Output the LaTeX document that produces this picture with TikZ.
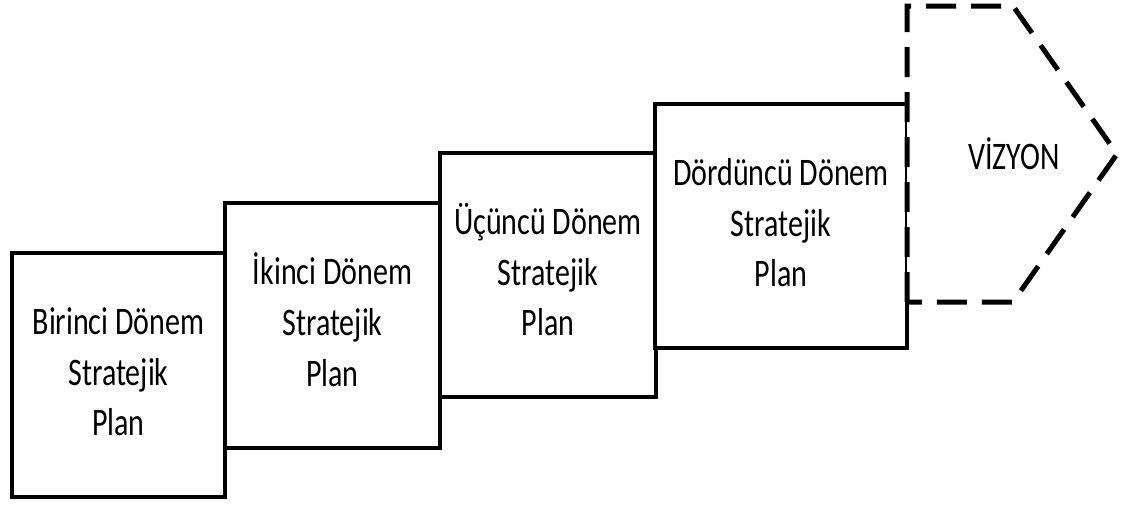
\documentclass[tikz,border=0pt]{standalone}
\usepackage{fontspec}
\setmainfont{Carlito}
\newcommand{\tallstack}[1]{\scalebox{1}[1.3]{\fontsize{30}{39}\selectfont\begin{tabular}{@{}c@{}}#1\end{tabular}}}
\begin{document}
\begin{tikzpicture}[x=1pt,y=-1pt,
  stepbox/.style={draw=black, line width=4.8pt, fill=white, inner sep=0pt, outer sep=0pt,
    align=center, line join=miter},
  visionshape/.style={draw=black, line width=5pt, fill=white, dash pattern=on 30pt off 15pt, line join=miter},
  vtext/.style={inner sep=0pt}
]
\useasboundingbox (0,0) rectangle (1123,504);
\node[stepbox, minimum width=213pt, minimum height=244pt] (b1) at (118.5,375) {\tallstack{Birinci Dönem\\Stratejik\\Plan}};
\node[stepbox, minimum width=215pt, minimum height=245pt] (b2) at (332.5,325.5) {\tallstack{İkinci Dönem\\Stratejik\\Plan}};
\node[stepbox, minimum width=216pt, minimum height=244pt] (b3) at (548,275) {\tallstack{Üçüncü Dönem\\Stratejik\\Plan}};
\node[stepbox, minimum width=252pt, minimum height=244pt] (b4) at (781,226) {\tallstack{Dördüncü Dönem\\Stratejik\\Plan}};
\coordinate (v1) at (907,6);
\coordinate (v2) at (1013,6);
\coordinate (v3) at (1117,154);
\coordinate (v4) at (1013,302);
\coordinate (v5) at (907,302);
\draw[visionshape] (v5) -- (v1) -- (v2) -- (v3) -- (v4) -- cycle;
\node[vtext] (viz) at (1014,154) {\scalebox{1}[1.3]{\fontsize{30}{39}\selectfont VİZYON}};
\end{tikzpicture}
\end{document}
